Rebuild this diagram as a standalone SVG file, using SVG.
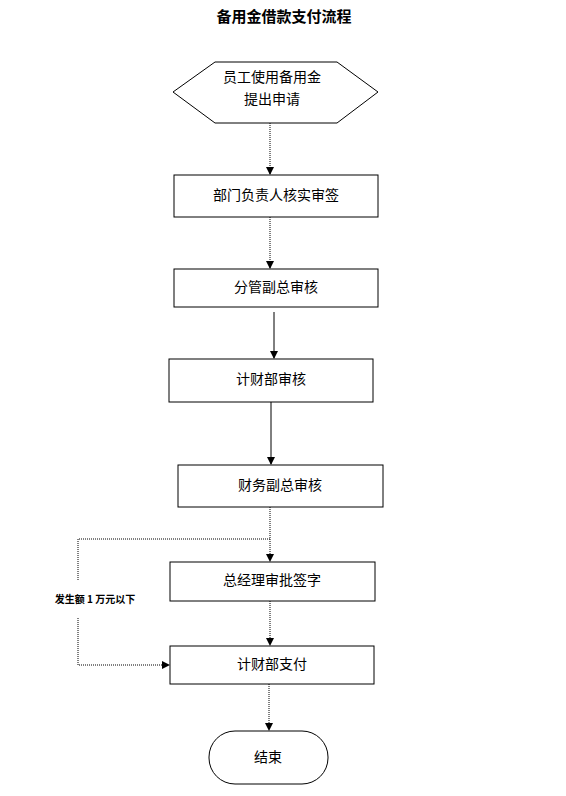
<svg xmlns="http://www.w3.org/2000/svg" width="566" height="796" viewBox="0 0 566 796">
<style>
.n{fill:#fff;stroke:#000;stroke-width:1}
.t{font-family:"Noto Sans CJK SC","Liberation Sans",sans-serif;font-size:14px;fill:#000;text-anchor:middle}
.c{fill:none;stroke:#000;stroke-width:1;stroke-dasharray:1 1}
.s{fill:none;stroke:#000;stroke-width:1}
</style>
<defs>
<marker id="ah" markerWidth="8" markerHeight="8" refX="7" refY="4" orient="auto" markerUnits="userSpaceOnUse">
<path d="M0,0 L8,4 L0,8 Z" fill="#000"/>
</marker>
</defs>
<rect width="566" height="796" fill="#fff"/>
<text x="284" y="22" class="t" style="font-size:15px;font-weight:bold">备用金借款支付流程</text>
<g id="connectors">
<path class="c" d="M270,123 V174" marker-end="url(#ah)"/>
<path class="c" d="M270,217 V268" marker-end="url(#ah)"/>
<path class="s" d="M274,312 V358" marker-end="url(#ah)"/>
<path class="s" d="M271,402 V464" marker-end="url(#ah)"/>
<path class="c" d="M270,507 V561" marker-end="url(#ah)"/>
<path class="c" d="M270,539 H78 V580"/>
<path class="c" d="M78,618 V665 H169" marker-end="url(#ah)"/>
<path class="c" d="M270,601 V645" marker-end="url(#ah)"/>
<path class="c" d="M269,684 V730" marker-end="url(#ah)"/>
</g>
<text x="95" y="603" class="t" style="font-size:10px;font-weight:bold">发生额 1 万元以下</text>
<g id="start">
<polygon class="n" points="215,62 337,62 378,92 337,123 215,123 173,92"/>
<text x="272" y="82" class="t">员工使用备用金</text>
<text x="272" y="104" class="t">提出申请</text>
</g>
<g id="n1">
<rect class="n" x="174" y="175" width="204" height="42"/>
<text x="276" y="200" class="t">部门负责人核实审签</text>
</g>
<g id="n2">
<rect class="n" x="174" y="269" width="204" height="38"/>
<text x="276" y="292" class="t">分管副总审核</text>
</g>
<g id="n3">
<rect class="n" x="169" y="359" width="204" height="43"/>
<text x="271" y="384" class="t">计财部审核</text>
</g>
<g id="n4">
<rect class="n" x="178" y="465" width="205" height="42"/>
<text x="280" y="490" class="t">财务副总审核</text>
</g>
<g id="n5">
<rect class="n" x="170" y="562" width="205" height="39"/>
<text x="272" y="585" class="t">总经理审批签字</text>
</g>
<g id="n6">
<rect class="n" x="170" y="646" width="204" height="38"/>
<text x="272" y="669" class="t">计财部支付</text>
</g>
<g id="end">
<rect class="n" x="209" y="731" width="119" height="53" rx="26" ry="26"/>
<text x="268" y="762" class="t">结束</text>
</g>
</svg>
